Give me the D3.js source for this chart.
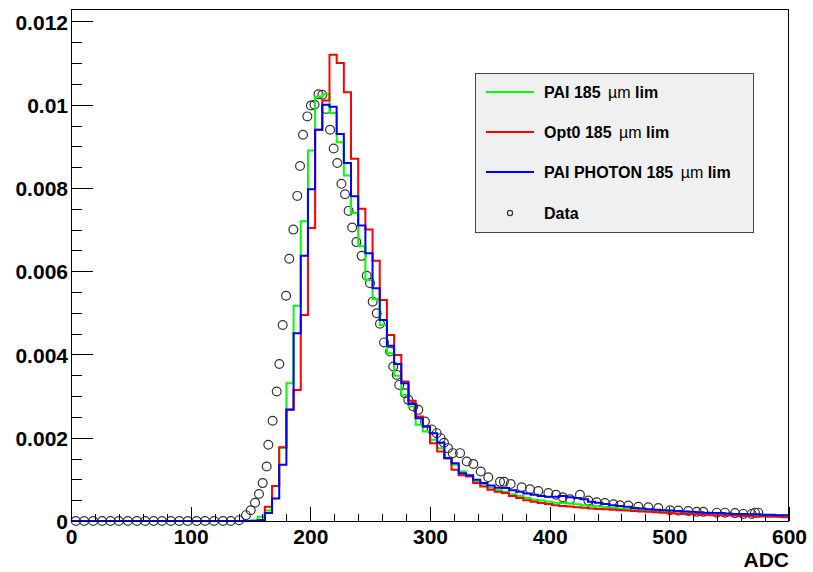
<!DOCTYPE html>
<html>
<head>
<meta charset="utf-8">
<script src="https://cdn.jsdelivr.net/npm/d3@7"></script>
<style>
body{margin:0;background:#fff;}
text{font-family:"Liberation Sans",Arial,Helvetica,sans-serif;font-weight:bold;}
</style>
</head>
<body>
<svg id="chart" width="813" height="572"></svg>
<script>
// histogram bins: 100 bins of 6 ADC, 0..600
const binWidth = 6;

const paiVals = [
0,0,0,0,0,0,0,0,0,0, 0,0,0,0,0,0,0,0,0,0, 0,0,0,0,0,
0.00002,0.00010,0.00025,0.00084,0.00176,0.00331,0.00517,0.00720,0.00890,0.01020,
0.01025,0.00980,0.00910,0.00830,0.00740,0.00660,0.00579,0.00533,0.00471,0.00403,
0.00349,0.00303,0.00275,0.00231,0.00215,0.00195,0.00175,0.00152,0.00135,0.00119,
0.00108,0.00095,0.00088,0.00080,0.00074,0.00070,0.00064,0.00060,0.00055,0.00051,
0.00049,0.00046,0.00044,0.00043,0.00042,0.00040,0.00038,0.00036,0.00035,0.00033,
0.00032,0.00030,0.00029,0.00028,0.00027,0.00026,0.00025,0.00024,0.00023,0.00023,
0.00022,0.00021,0.00020,0.00019,0.00018,0.00018,0.00017,0.00016,0.00016,0.00015,
0.00015,0.00014,0.00014,0.00013,0.00013
];

const opt0Vals = [
0,0,0,0,0,0,0,0,0,0, 0,0,0,0,0,0,0,0,0,0, 0,0,0,0,0,
0,0.00002,0.00034,0.00084,0.00177,0.00267,0.00315,0.00495,0.00704,0.00940,
0.01010,0.01120,0.01100,0.01030,0.00870,0.00750,0.00700,0.00625,0.00531,0.00447,
0.00399,0.00335,0.00289,0.00251,0.00227,0.00187,0.00167,0.00151,0.00123,0.00110,
0.00107,0.00091,0.00083,0.00075,0.00070,0.00067,0.00060,0.00055,0.00050,0.00046,
0.00043,0.00041,0.00038,0.00036,0.00035,0.00033,0.00032,0.00030,0.00029,0.00028,
0.00027,0.00026,0.00025,0.00024,0.00023,0.00022,0.00021,0.00020,0.00019,0.00018,
0.00017,0.00016,0.00016,0.00015,0.00014,0.00014,0.00013,0.00013,0.00012,0.00012,
0.00011,0.00011,0.00010,0.00010,0.00009
];

const photonVals = [
0,0,0,0,0,0,0,0,0,0, 0,0,0,0,0,0,0,0,0,0, 0,0,0,0,0,
0,0.00002,0.00019,0.00054,0.00135,0.00268,0.00451,0.00637,0.00797,0.00940,
0.01000,0.00995,0.00930,0.00860,0.00780,0.00710,0.00643,0.00559,0.00483,0.00421,
0.00377,0.00331,0.00281,0.00247,0.00227,0.00211,0.00188,0.00151,0.00139,0.00115,
0.00110,0.00099,0.00091,0.00085,0.00080,0.00079,0.00074,0.00070,0.00066,0.00063,
0.00060,0.00058,0.00058,0.00060,0.00057,0.00055,0.00052,0.00046,0.00044,0.00041,
0.00038,0.00036,0.00034,0.00031,0.00030,0.00028,0.00027,0.00026,0.00025,0.00024,
0.00023,0.00022,0.00021,0.00020,0.00019,0.00019,0.00018,0.00017,0.00017,0.00016,
0.00016,0.00015,0.00015,0.00014,0.00014
];

// measured data points
const dataAdc = [4,11,18.5,26,33,40,47.5,55,62,69,76,83.5,90.5,97.5,105,112,119.5,127,133.5,140.5,
146.2,150.2,153.8,157.1,160.2,163.5,164.9,168.5,171.9,174.1,176.9,179.7,182.4,185.8,189.1,191.4,193.9,
197.5,200.5,203.5,206.8,210,213.2,216.5,219.5,222.5,226,229,232,235,238.5,242.9,247.1,249.9,252.1,
255.5,258.2,261.6,266.6,269.3,272.2,274.3,279.1,281.9,286,290.2,295.8,301.4,305.6,308.9,311.7,315,
319,325.1,330.7,336.2,342.4,348.7,358.5,361.8,367.4,376.6,383.6,390.5,398.9,405.3,410.9,417,425.3,
432.3,439.3,446.2,453.2,458.8,465.7,474.1,482.4,490.8,500.6,507.5,515.8,522.9,528.4,539.6,546.5,
554.9,561.8,568.8,571.6,574.3];
const dataVal = [0,0,0,0,0,0,0,0,0,0,0,0,0,0,0,0,0,0,0,0.00002,
0.00014,0.00026,0.00044,0.00065,0.00091,0.00131,0.00183,0.00241,0.00311,0.00377,0.00471,0.00541,0.00630,0.00700,0.00781,0.00853,0.00928,
0.00972,0.00998,0.01000,0.01025,0.01024,0.00990,0.00940,0.00895,0.00860,0.00810,0.00785,0.00745,0.00705,0.00670,0.00637,0.00589,0.00571,0.00527,
0.00499,0.00474,0.00429,0.00407,0.00371,0.00351,0.00327,0.00307,0.00291,0.00275,0.00267,0.00239,0.00220,0.00211,0.00199,0.00188,0.00175,
0.00163,0.00163,0.00143,0.00137,0.00119,0.00105,0.00094,0.00094,0.00089,0.00081,0.00076,0.00072,0.00067,0.00063,0.00057,0.00052,0.00063,
0.00049,0.00045,0.00043,0.00040,0.00038,0.00037,0.00034,0.00033,0.00031,0.00026,0.00025,0.00024,0.00022,0.00022,0.00020,0.00020,
0.00019,0.00017,0.00017,0.00020,0.00020];

const xTicks = [0,100,200,300,400,500,600];
const yTicks = [0,0.002,0.004,0.006,0.008,0.01,0.012];
const yTickLabels = ["0","0.002","0.004","0.006","0.008","0.01","0.012"];

const series = [
  {name:"PAI 185 ", vals:paiVals, color:"#00ff00"},
  {name:"Opt0 185 ", vals:opt0Vals, color:"#ff0000"},
  {name:"PAI PHOTON 185 ", vals:photonVals, color:"#0000ff"}
];

const svg = d3.select("#chart");
const pLeft = 71, pTop = 9, pRight = 789, pBottom = 521;

const x = d3.scaleLinear().domain([0,600]).range([pLeft,pRight]);
const y = d3.scaleLinear().domain([0,0.0123]).range([pBottom,pTop]);

// data markers first
svg.append("g").selectAll("circle")
  .data(dataAdc.map((a,i)=>[a,dataVal[i]]))
  .join("circle")
  .attr("cx", d=>x(d[0]))
  .attr("cy", d=>y(d[1]))
  .attr("r", 4.4)
  .attr("fill","none")
  .attr("stroke","#333")
  .attr("stroke-width",1.2);

// histograms
svg.append("clipPath").attr("id","clp").append("rect")
  .attr("x",pLeft).attr("y",pTop).attr("width",pRight-pLeft).attr("height",pBottom-pTop+1);

const line = d3.line().x(d=>x(d[0])).y(d=>y(d[1])).curve(d3.curveStepAfter);
series.forEach(s=>{
  let pts = s.vals.map((v,i)=>[i*binWidth, v]);
  pts.push([s.vals.length*binWidth, s.vals[s.vals.length-1]]);
  svg.append("path")
    .attr("d", line(pts))
    .attr("fill","none")
    .attr("stroke", s.color)
    .attr("stroke-width",2)
    .attr("clip-path","url(#clp)");
});

// frame
svg.append("rect")
  .attr("x",pLeft+0.5).attr("y",pTop+0.5)
  .attr("width",pRight-pLeft-1).attr("height",pBottom-pTop)
  .attr("fill","none").attr("stroke","#000").attr("stroke-width",1);

// x axis
let xMinor = d3.range(0,601,20).filter(v=>v%100!=0);
let gxm = svg.append("g").attr("transform",`translate(0,${pBottom})`)
  .call(d3.axisBottom(x).tickValues(xMinor).tickSize(-7).tickFormat(""));
let gx = svg.append("g").attr("transform",`translate(0,${pBottom})`)
  .call(d3.axisBottom(x).tickValues(xTicks).tickSize(-14).tickPadding(7).tickFormat(d3.format("d")));
[gx,gxm].forEach(g=>{
  g.select(".domain").remove();
  g.selectAll("line").attr("stroke","#000").attr("shape-rendering","crispEdges");
});
gx.selectAll("text").attr("font-size",21).attr("fill","#000")
  .attr("font-family","Liberation Sans, Arial, sans-serif").attr("font-weight","bold")
  .attr("dy",null).attr("y",23);

// y axis
let yMinor = d3.range(0,0.01226,0.0005).filter((v,i)=>i%4!=0);
let gym = svg.append("g").attr("transform",`translate(${pLeft},0)`)
  .call(d3.axisLeft(y).tickValues(yMinor).tickSize(-11).tickFormat(""));
let gy = svg.append("g").attr("transform",`translate(${pLeft},0)`)
  .call(d3.axisLeft(y).tickValues(yTicks).tickSize(-22).tickPadding(3).tickFormat((d,i)=>yTickLabels[i]));
[gy,gym].forEach(g=>{
  g.select(".domain").remove();
  g.selectAll("line").attr("stroke","#000").attr("shape-rendering","crispEdges");
});
gy.selectAll("text").attr("font-size",21).attr("fill","#000")
  .attr("font-family","Liberation Sans, Arial, sans-serif").attr("font-weight","bold")
  .attr("dy","0.36em");

// axis title
svg.append("text").attr("x",789).attr("y",567).attr("text-anchor","end")
  .attr("font-size",21).text("ADC");

// legend
const lg = svg.append("g");
lg.append("rect").attr("x",475.5).attr("y",73.5).attr("width",278).attr("height",159)
  .attr("fill","#f0f0f0").attr("stroke","#444").attr("stroke-width",1);
const rowY = [92,132,172,213];
series.forEach((s,i)=>{
  lg.append("line").attr("x1",486).attr("x2",534).attr("y1",rowY[i]).attr("y2",rowY[i])
    .attr("stroke",s.color).attr("stroke-width",2);
  let t = lg.append("text").attr("x",544).attr("y",rowY[i]+6).attr("font-size",16).attr("fill","#000");
  t.append("tspan").text(s.name);
  t.append("tspan").attr("font-weight","normal").attr("dx",3).text("\u00b5m");
  t.append("tspan").text(" lim");
});
lg.append("circle").attr("cx",510).attr("cy",rowY[3]).attr("r",2.6)
  .attr("fill","none").attr("stroke","#333").attr("stroke-width",1.2);
lg.append("text").attr("x",544).attr("y",rowY[3]+6).attr("font-size",16).attr("fill","#000").text("Data");
</script>
</body>
</html>
